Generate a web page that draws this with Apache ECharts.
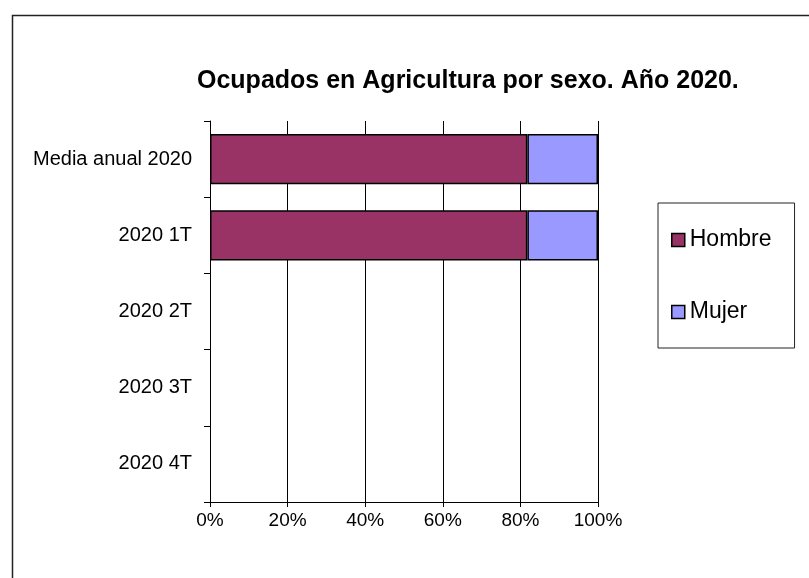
<!DOCTYPE html>
<html><head><meta charset="utf-8">
<script src="https://cdn.jsdelivr.net/npm/echarts@6/dist/echarts.min.js"></script>
<style>html,body{margin:0;padding:0;background:#fff}#c{width:809px;height:578px}</style>
</head><body><div id="c"></div>
<script>
const categories = ['Media anual 2020', '2020 1T', '2020 2T', '2020 3T', '2020 4T'];
const hombre = [81.8, 81.8, null, null, null];
const mujer = [18.2, 18.2, null, null, null];
const xTicks = [0, 20, 40, 60, 80, 100];

const chart = echarts.init(document.getElementById('c'), null, {renderer: 'canvas'});
const font = '"Liberation Sans", Arial, sans-serif';
chart.setOption({
  backgroundColor: '#fff',
  animation: false,
  graphic: [{
    type: 'rect', left: 10, top: 13, z: -1,
    shape: {x: 0, y: 0, width: 900, height: 700},
    style: {fill: 'none', stroke: '#222', lineWidth: 1.5}
  }],
  title: {
    text: 'Ocupados en Agricultura por sexo. Año 2020.',
    left: 192, top: 64,
    textStyle: {fontFamily: font, fontSize: 25, fontWeight: 'bold', color: '#000'}
  },
  legend: {
    orient: 'vertical', left: 658, top: 203,
    padding: [25, 23, 24, 13], itemGap: 48,
    itemWidth: 13, itemHeight: 13, icon: 'rect',
    borderColor: '#222', borderWidth: 1,
    itemStyle: {borderColor: '#000', borderWidth: 1.5},
    textStyle: {fontFamily: font, fontSize: 23, color: '#000', lineHeight: 24},
    data: ['Hombre', 'Mujer']
  },
  grid: {left: 210, right: 211, top: 121, bottom: 76, containLabel: false},
  xAxis: {
    type: 'value', min: xTicks[0], max: xTicks[xTicks.length - 1], interval: 20,
    axisLine: {show: true, lineStyle: {color: '#000', width: 1}},
    axisTick: {show: true, length: 5, lineStyle: {color: '#000'}},
    axisLabel: {formatter: '{value}%', fontFamily: font, fontSize: 19, color: '#000', margin: 9},
    splitLine: {show: true, lineStyle: {color: '#000', width: 1}}
  },
  yAxis: {
    type: 'category', data: categories, inverse: true,
    axisLine: {show: true, lineStyle: {color: '#000', width: 1}},
    axisTick: {show: true, length: 6, lineStyle: {color: '#000'}},
    axisLabel: {fontFamily: font, fontSize: 20, color: '#000', margin: 18},
    splitLine: {show: false}
  },
  series: [
    {name: 'Hombre', type: 'bar', stack: 's', data: hombre, barCategoryGap: '34%',
     itemStyle: {color: '#993366', borderColor: '#000', borderWidth: 1.5}},
    {name: 'Mujer', type: 'bar', stack: 's', data: mujer, barCategoryGap: '34%',
     itemStyle: {color: '#9999FF', borderColor: '#000', borderWidth: 1.5}}
  ]
});
</script></body></html>
